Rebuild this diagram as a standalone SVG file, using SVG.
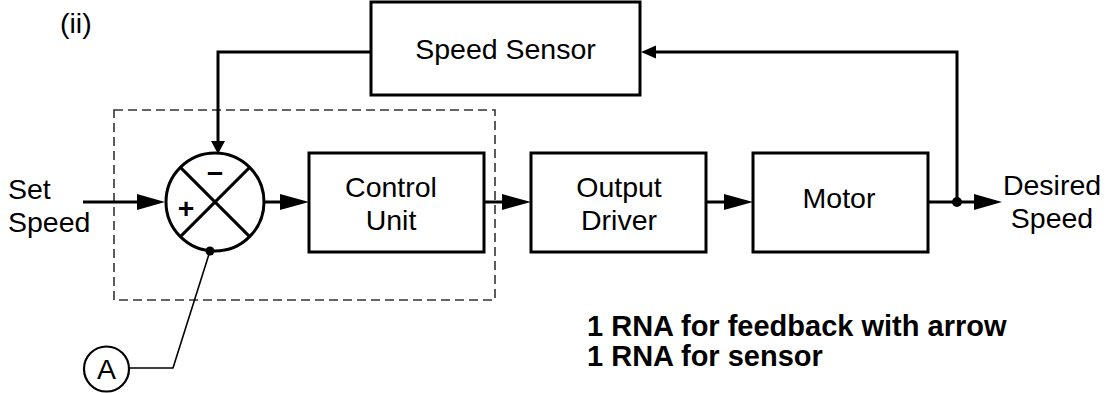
<svg xmlns="http://www.w3.org/2000/svg" width="1107" height="393" viewBox="0 0 1107 393">
<style>
.box{fill:#fff;stroke:#000;stroke-width:3}
.t{font-family:"Liberation Sans",Arial,sans-serif;font-size:28.5px;fill:#000}
.c{text-anchor:middle}
.b{font-weight:bold}
.nb{font-size:29px}
.ln{fill:none;stroke:#000;stroke-width:3}
.thin{fill:none;stroke:#000;stroke-width:1.6}
.ah{fill:#000;stroke:none}
.dash{fill:none;stroke:#333;stroke-width:1.6;stroke-dasharray:9 5}
</style>
<rect width="1107" height="393" fill="#fff"/>
<text class="t" x="60" y="33">(ii)</text>
<g id="boundary"><rect class="dash" x="114" y="110" width="381" height="190"/></g>
<g id="sensor"><rect class="box" x="371" y="2" width="269" height="93"/><text class="t c" x="505.5" y="59">Speed Sensor</text></g>
<g id="summer">
<circle class="ln" cx="215" cy="202" r="49" fill="#fff"/>
<line class="ln" x1="180.4" y1="167.4" x2="249.6" y2="236.6"/>
<line class="ln" x1="249.6" y1="167.4" x2="180.4" y2="236.6"/>
<text class="t c b" x="215" y="183">−</text>
<text class="t c b" x="186" y="218">+</text>
</g>
<g id="control"><rect class="box" x="309" y="153" width="175" height="99"/><text class="t c" x="391" y="197">Control</text><text class="t c" x="391" y="230">Unit</text></g>
<g id="driver"><rect class="box" x="531" y="153" width="175" height="99"/><text class="t c" x="619" y="197">Output</text><text class="t c" x="619" y="230">Driver</text></g>
<g id="motor"><rect class="box" x="753" y="153" width="175" height="99"/><text class="t c" x="839" y="208">Motor</text></g>
<g id="labels">
<text class="t" x="8" y="199">Set</text><text class="t" x="8" y="232">Speed</text>
<text class="t c" x="1052" y="195">Desired</text><text class="t c" x="1052" y="228">Speed</text>
</g>
<g id="connectors">
<polyline class="ln" points="83,202 140,202"/><polygon class="ah" points="137,194 165,202 137,210"/>
<polyline class="ln" points="264,202 283,202"/><polygon class="ah" points="280,194 309,202 280,210"/>
<polyline class="ln" points="484,202 505,202"/><polygon class="ah" points="502,194 531,202 502,210"/>
<polyline class="ln" points="706,202 727,202"/><polygon class="ah" points="724,194 753,202 724,210"/>
<polyline class="ln" points="928,202 977,202"/><polygon class="ah" points="974,194 1002,202 974,210"/>
<circle cx="957" cy="202" r="5" fill="#000"/>
<polyline class="ln" points="957,202 957,52 654,52"/><polygon class="ah" points="656,45.5 641,52 656,58.5"/>
<polyline class="ln" points="371,52 218,52 218,144"/><polygon class="ah" points="211,141 218,154 225,141"/>
<circle cx="210" cy="251" r="4.5" fill="#000"/>
<polyline class="thin" points="210,251 173,368 129,368"/>
</g>
<g id="nodeA"><circle cx="106.5" cy="369" r="22.5" fill="#fff" stroke="#000" stroke-width="2.2"/><text class="t c" x="106.5" y="379">A</text></g>
<g id="notes">
<text class="t b nb" x="587" y="336">1 RNA for feedback with arrow</text>
<text class="t b nb" x="587" y="366">1 RNA for sensor</text>
</g>
</svg>
